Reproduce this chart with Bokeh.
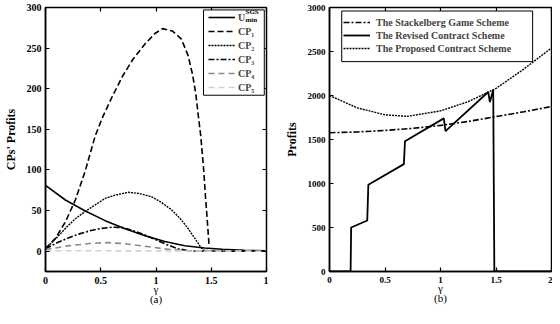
from bokeh.plotting import figure
from bokeh.layouts import row
from bokeh.models import (Range1d, LinearAxis, FixedTicker, Legend, LegendItem, Label,
                          BoxAnnotation)
from bokeh.embed import file_html
from bokeh.resources import INLINE

# ---------------- data: panel (a) ----------------
u_x = [0, 0.18, 0.36, 0.54, 0.72, 0.90, 1.08, 1.26, 1.44, 1.6, 1.8, 2.0]
u_y = [81, 63, 49.5, 37.6, 27.7, 19, 12, 6.7, 4, 2.3, 1.2, 0.5]

cp1_x = [0, 0.09, 0.18, 0.27, 0.36, 0.45, 0.52, 0.61, 0.70, 0.79, 0.90, 0.99, 1.06,
         1.15, 1.23, 1.29, 1.33, 1.36, 1.38, 1.405, 1.43, 1.45, 1.465, 1.48]
cp1_y = [3, 16, 36, 63, 99, 142, 166, 192, 216, 236, 255, 268, 274,
         271, 261, 241, 218, 194, 170, 142, 103, 63, 36, 8]

cp2_x = [0, 0.09, 0.18, 0.27, 0.36, 0.45, 0.54, 0.63, 0.75, 0.85, 0.96, 1.05, 1.14,
         1.22, 1.29, 1.35, 1.40, 1.43, 1.6, 2.0]
cp2_y = [3, 15, 28, 40, 49, 57, 65, 69, 72.5, 71, 67, 60, 51, 40, 28, 16, 6, 1, 0, 0]

cp3_x = [0, 0.1, 0.2, 0.3, 0.4, 0.5, 0.6, 0.7, 0.8, 0.9, 1.0, 1.1, 1.2, 1.3, 1.4, 2.0]
cp3_y = [3, 10, 16, 21, 25, 28, 29.5, 29, 25, 20, 14, 8, 3, 0.5, 0, 0]

cp4_x = [0, 0.2, 0.4, 0.55, 0.7, 0.9, 1.1, 1.3, 1.5, 2.0]
cp4_y = [2, 6.5, 9.5, 10.5, 9.5, 6, 2.5, 0.5, 0, 0]

cp5_x = [0, 0.5, 1.0, 1.5, 2.0]
cp5_y = [0.5, 0.5, 0.3, 0.1, 0]

a_xticks = [0, 0.5, 1, 1.5, 2]
a_xlabels = ["0", "0.5", "1", "1.5", "1"]
a_yticks = [0, 50, 100, 150, 200, 250, 300]

# ---------------- data: panel (b) ----------------
stack_x = [0, 0.25, 0.5, 0.75, 1.0, 1.25, 1.5, 1.75, 2.0]
stack_y = [1577, 1585, 1603, 1627, 1660, 1705, 1760, 1815, 1875]

prop_x = [0, 0.25, 0.5, 0.7, 1.0, 1.25, 1.5, 1.75, 2.0]
prop_y = [2000, 1860, 1780, 1763, 1825, 1930, 2080, 2300, 2540]

rev_x = [0, 0.19, 0.195, 0.34, 0.35, 0.67, 0.68, 1.03, 1.045, 1.43, 1.445, 1.475, 1.485, 2.0]
rev_y = [0, 0, 500, 580, 985, 1220, 1480, 1740, 1595, 2040, 1925, 2065, 0, 0]

b_xticks = [0, 0.5, 1, 1.5, 2]
b_xlabels = ["0", "0.5", "1", "1.5", "2"]
b_yticks = [0, 500, 1000, 1500, 2000, 2500, 3000]

SERIF = "Liberation Serif"


def tick_axis(ticks):
    return LinearAxis(ticker=FixedTicker(ticks=ticks), major_label_text_font_size="0px",
                      major_tick_in=4, major_tick_out=0, minor_tick_line_color=None,
                      major_label_standoff=0, axis_line_color="black",
                      major_tick_line_color="black", major_tick_line_width=1.2)


def style(p, xticks, xlabels, yticks, ylabel, sub, tick_size, right_axis):
    p.grid.visible = False
    p.outline_line_color = "black"
    p.outline_line_width = 1.5
    p.outline_line_alpha = 1.0
    p.xaxis.ticker = FixedTicker(ticks=xticks)
    p.xaxis.major_label_overrides = {t: l for t, l in zip(xticks, xlabels)}
    p.yaxis.ticker = FixedTicker(ticks=yticks)
    p.yaxis.major_label_overrides = {t: str(t) for t in yticks}
    for ax in (p.xaxis[0], p.yaxis[0]):
        ax.major_tick_in = 4
        ax.major_tick_out = 0
        ax.minor_tick_line_color = None
        ax.axis_line_color = "black"
        ax.axis_line_width = 1.5
        ax.major_tick_line_color = "black"
        ax.major_tick_line_width = 1.2
        ax.major_label_text_font = SERIF
        ax.major_label_text_font_style = "bold"
        ax.major_label_text_font_size = tick_size
        ax.major_label_text_color = "black"
    p.xaxis.major_label_standoff = 5
    p.yaxis.major_label_standoff = 4
    p.xaxis.axis_label = "γ\n" + sub
    p.xaxis.axis_label_text_font = SERIF
    p.xaxis.axis_label_text_font_style = "normal"
    p.xaxis.axis_label_text_font_size = "11px"
    p.xaxis.axis_label_text_line_height = 0.9
    p.xaxis.axis_label_standoff = -4
    p.xaxis.axis_label_text_color = "black"
    p.yaxis.axis_label = ylabel
    p.yaxis.axis_label_text_font = SERIF
    p.yaxis.axis_label_text_font_style = "bold"
    p.yaxis.axis_label_text_font_size = "12px"
    p.yaxis.axis_label_standoff = 6
    p.yaxis.axis_label_text_color = "black"
    p.add_layout(tick_axis(xticks), "above")
    if right_axis:
        p.add_layout(tick_axis(yticks), "right")


def style_legend(lg, spacing, standoff):
    lg.label_text_font = SERIF
    lg.label_text_font_style = "bold"
    lg.label_text_font_size = "10px"
    lg.label_height = 12
    lg.glyph_height = 12
    lg.glyph_width = 27
    lg.spacing = spacing
    lg.padding = 3
    lg.label_standoff = standoff
    lg.border_line_color = None
    lg.background_fill_alpha = 0


def legend_box(left, right, bottom, top):
    return BoxAnnotation(left=left, right=right, bottom=bottom, top=top,
                         fill_color="white", fill_alpha=1.0, line_color="black",
                         line_width=1, line_alpha=1.0, level="annotation")


# ---------------- panel (a) ----------------
pa = figure(width=268, height=308, output_backend="svg", toolbar_location=None,
            x_range=Range1d(0, 2), y_range=Range1d(-25, 300),
            min_border_left=36, min_border_right=2, min_border_top=7, min_border_bottom=0)
style(pa, a_xticks, a_xlabels, a_yticks, "CPs' Profits", "(a)", "10px", True)

r_u = pa.line(u_x, u_y, line_color="black", line_width=1.6)
r1 = pa.line(cp1_x, cp1_y, line_color="black", line_width=1.6, line_dash="6 3")
r2 = pa.line(cp2_x, cp2_y, line_color="black", line_width=1.4, line_dash="2 1")
r3 = pa.line(cp3_x, cp3_y, line_color="black", line_width=1.6, line_dash="6 2 2 2")
r4 = pa.line(cp4_x, cp4_y, line_color="#8a8a8a", line_width=1.6, line_dash="6 4")
r5 = pa.line(cp5_x, cp5_y, line_color="#d2d2cc", line_width=1.6, line_dash="6 4")

pa.add_layout(legend_box(1.43, 1.98, 192, 297))
leg_a = Legend(items=[
    LegendItem(label="U", renderers=[r_u]),
    LegendItem(label="CP₁", renderers=[r1]),
    LegendItem(label="CP₂", renderers=[r2]),
    LegendItem(label="CP₃", renderers=[r3]),
    LegendItem(label="CP₄", renderers=[r4]),
    LegendItem(label="CP₅", renderers=[r5]),
], location="top_right")
style_legend(leg_a, 2, 3)
leg_a.label_width = 24
leg_a.margin = 4
pa.add_layout(leg_a, "center")

# superscript / subscript for U_min^SGS in the legend's first row
pa.add_layout(Label(x=1.81, y=294, text="SGS", level="overlay",
                    text_baseline="middle", text_font=SERIF, text_font_style="bold",
                    text_font_size="7px", text_color="black"))
pa.add_layout(Label(x=1.81, y=284, text="min", level="overlay",
                    text_baseline="middle", text_font=SERIF, text_font_style="bold",
                    text_font_size="7px", text_color="black"))

# ---------------- panel (b) ----------------
pb = figure(width=284, height=308, output_backend="svg", toolbar_location=None,
            x_range=Range1d(0, 2), y_range=Range1d(0, 3000),
            min_border_left=61, min_border_right=1, min_border_top=7, min_border_bottom=0)
style(pb, b_xticks, b_xlabels, b_yticks, "Profits", "(b)", "9px", False)

s1 = pb.line(stack_x, stack_y, line_color="black", line_width=1.6, line_dash="6 2 2 2")
s2 = pb.line(rev_x, rev_y, line_color="black", line_width=1.8)
s3 = pb.line(prop_x, prop_y, line_color="black", line_width=1.4, line_dash="2 1")

pb.add_layout(legend_box(0.11, 1.83, 2385, 2960))
leg_b = Legend(items=[
    LegendItem(label="The Stackelberg Game Scheme", renderers=[s1]),
    LegendItem(label="The Revised Contract Scheme", renderers=[s2]),
    LegendItem(label="The Proposed Contract Scheme", renderers=[s3]),
], location=(14, 217))
style_legend(leg_b, 1, 6)
pb.add_layout(leg_b, "center")

layout = row(pa, pb)
open("out.html", "w").write(file_html(layout, INLINE))
